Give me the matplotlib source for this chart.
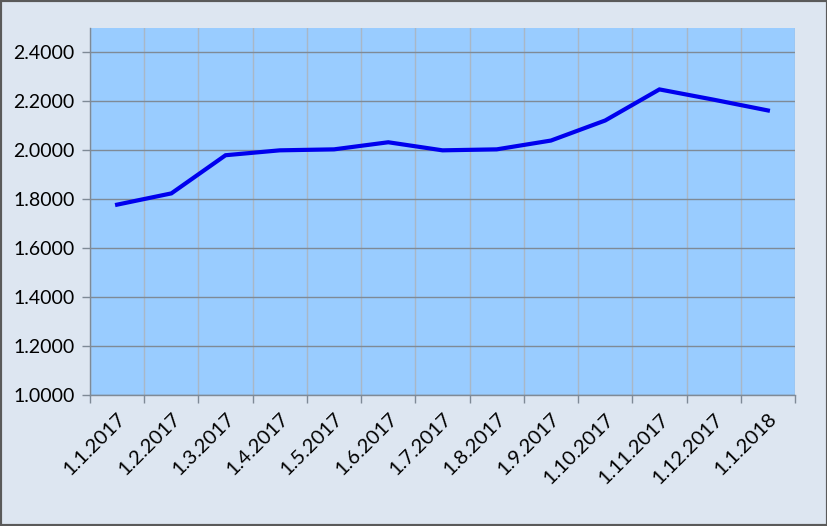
#!/usr/bin/env python3
"""Monthly rate line chart, Excel-style look."""
import matplotlib
matplotlib.use("Agg")
import matplotlib.pyplot as plt
from matplotlib.patches import Rectangle

DATES = ["1.1.2017", "1.2.2017", "1.3.2017", "1.4.2017", "1.5.2017", "1.6.2017",
         "1.7.2017", "1.8.2017", "1.9.2017", "1.10.2017", "1.11.2017",
         "1.12.2017", "1.1.2018"]
VALUES = [1.778, 1.824, 1.980, 2.000, 2.004, 2.033, 2.000, 2.004, 2.040,
          2.122, 2.249, 2.207, 2.163]
YTICKS = [1.0, 1.2, 1.4, 1.6, 1.8, 2.0, 2.2, 2.4]

plt.rcParams["font.family"] = ["Lato", "DejaVu Sans"]

fig = plt.figure(figsize=(8.28, 5.26), dpi=100, facecolor="#dde6f1")
ax = fig.add_axes([90 / 828, 1 - 395 / 526, 705 / 828, 367 / 526])
ax.set_facecolor("#99ccff")

n = len(DATES)
xs = [i + 0.5 for i in range(n)]
ax.plot(xs, VALUES, color="#0000ee", lw=3.0, solid_joinstyle="miter", zorder=3)

ax.set_xlim(0, n)
ax.set_ylim(1.0, 2.5)
ax.set_yticks(YTICKS)
ax.set_yticklabels([f"{v:.4f}" for v in YTICKS])
ax.set_xticks(range(n + 1))
ax.set_xticklabels([])
ax.set_xticks(xs, minor=True)
ax.set_xticklabels(DATES, minor=True, rotation=45, ha="right",
                   rotation_mode="anchor")
ax.tick_params(axis="x", which="minor", length=0, pad=11, labelsize=14.5)
ax.tick_params(axis="x", which="major", length=6, color="#7f8a96", width=1)
ax.tick_params(axis="y", length=6, color="#7f8a96", width=1, labelsize=14, pad=5)

ax.grid(axis="y", color="#7f8a96", lw=1.0)
ax.grid(axis="x", which="major", color="#a9b7c6", lw=1.0)
ax.set_axisbelow(True)
for s in ("top", "right"):
    ax.spines[s].set_visible(False)
for s in ("left", "bottom"):
    ax.spines[s].set_color("#7f8a96")
    ax.spines[s].set_linewidth(1.0)

fig.patches.append(Rectangle((0, 0), 1, 1, transform=fig.transFigure,
                             fill=False, edgecolor="#5a5a5a", lw=3.0))

fig.savefig("out.png", dpi=100, facecolor=fig.get_facecolor())
